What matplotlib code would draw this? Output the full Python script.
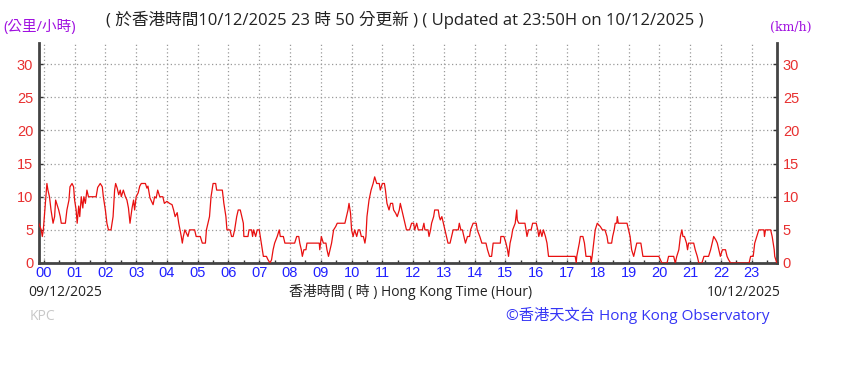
import numpy as np
import matplotlib
matplotlib.use('Agg')
import matplotlib.pyplot as plt
from matplotlib.ticker import MultipleLocator

# minutes after 00:00 of 10/12/2025 (negative = previous day) and wind speed (km/h)
minutes = [-10, -5, -3, -1, 6, 8, 11, 14, 18, 21, 23, 25, 29, 32, 34, 42, 45, 49, 51, 55,
           58, 60, 63, 65, 68, 70, 73, 76, 78, 81, 84, 87, 102, 105, 110, 114, 116, 120, 123, 126,
           131, 135, 138, 140, 143, 146, 149, 151, 155, 159, 162, 165, 168, 172, 175, 177, 180, 184, 187, 190,
           198, 201, 203, 207, 213, 216, 219, 222, 226, 232, 235, 240, 245, 250, 253, 256, 260, 263, 268, 270,
           272, 275, 281, 284, 294, 297, 305, 309, 315, 317, 320, 323, 326, 330, 335, 337, 348, 351, 355, 357,
           363, 366, 369, 372, 376, 379, 383, 386, 389, 390, 398, 400, 405, 407, 409, 413, 416, 420, 422, 426,
           428, 434, 437, 441, 444, 447, 450, 455, 459, 461, 467, 470, 489, 493, 497, 499, 502, 504, 507, 511,
           513, 537, 538, 541, 545, 550, 552, 555, 558, 561, 563, 565, 569, 572, 587, 590, 593, 595, 598, 600,
           603, 606, 610, 613, 616, 619, 623, 626, 628, 630, 634, 638, 642, 645, 649, 654, 656, 660, 664, 666,
           669, 673, 676, 680, 682, 686, 689, 693, 695, 698, 701, 704, 707, 713, 717, 721, 723, 727, 730, 738,
           741, 743, 749, 751, 754, 756, 760, 762, 769, 771, 773, 776, 779, 782, 785, 788, 792, 795, 798, 808,
           810, 813, 816, 819, 822, 826, 830, 832, 837, 843, 845, 850, 854, 862, 865, 869, 873, 876, 890, 891,
           897, 901, 904, 906, 909, 912, 914, 919, 922, 923, 926, 938, 942, 945, 950, 953, 960, 963, 965, 968,
           971, 974, 978, 981, 984, 1036, 1038, 1039, 1044, 1046, 1051, 1054, 1057, 1066, 1067, 1069, 1072, 1075, 1079, 1085,
           1089, 1094, 1098, 1100, 1107, 1109, 1112, 1114, 1117, 1118, 1120, 1137, 1140, 1143, 1146, 1150, 1153, 1156, 1164, 1166,
           1168, 1199, 1202, 1205, 1215, 1218, 1228, 1231, 1234, 1238, 1241, 1244, 1246, 1249, 1253, 1255, 1257, 1267, 1270, 1274,
           1277, 1283, 1287, 1296, 1300, 1303, 1306, 1310, 1313, 1316, 1319, 1323, 1329, 1332, 1335, 1339, 1375, 1378, 1383, 1386,
           1390, 1394, 1404, 1405, 1407, 1417, 1420, 1424, 1425, 1429]
speed = [6, 5, 4, 5, 12, 11, 10, 8, 6, 7, 9.5, 9, 8, 7, 6, 6, 8, 9.5, 11.5, 12,
         11.5, 9.5, 8, 6, 8.6, 7, 10, 8.3, 10, 9, 11, 10, 10, 11.4, 12, 11.5, 10, 8, 6, 5,
         5, 7, 11, 12, 11.3, 10.3, 11, 10, 11, 10, 9.5, 8.3, 6, 8.3, 9.5, 8, 10, 10.6, 11.6, 12,
         12, 11.3, 11.6, 9.8, 8.8, 10, 9.8, 11, 10, 10, 9, 9.3, 9, 8.8, 8, 7, 7.6, 6, 4, 3,
         4, 5, 4, 5, 5, 4, 4, 3, 3, 5, 6, 7, 10, 12, 12, 11, 11, 9, 7, 5,
         5, 4, 4, 5, 7, 8, 8, 7, 6, 4, 4, 5, 5, 4, 5, 4, 5, 5, 4, 2,
         1, 1, 0.5, 0, 0.5, 2, 3, 4, 5, 4, 4, 3, 3, 4, 4, 3, 2, 1, 2, 2,
         3, 3, 2, 4, 3, 3, 2, 1, 2, 3, 4, 5, 5.5, 6, 6, 7, 8, 9, 7.5, 5,
         4, 5, 4, 5, 5, 4, 4, 3, 4, 7, 9.5, 11, 12, 13, 12, 12, 11, 12, 12, 11,
         9, 8, 9, 9, 8, 7.5, 7, 8, 9, 8, 7, 6, 5, 5, 6, 6, 5, 6, 5, 5,
         6, 5, 5, 4, 5, 6, 7, 8, 8, 7, 6.5, 7, 6, 5, 4, 3, 3, 4, 5, 5,
         6, 5, 5, 4, 3, 4, 4, 5, 6, 6, 5, 4, 3, 3, 2, 1, 1, 3, 3, 4,
         4, 3, 2, 1, 3, 4, 5, 6, 8, 6.5, 6, 6, 4, 5, 5, 6, 6, 5, 4, 5,
         4, 5, 4, 3, 1, 1, 0, 1, 3, 4, 4, 3, 1, 1, 0, 1, 3, 5, 6, 5.5,
         5, 5, 4, 3, 3, 4, 5, 6, 6, 7, 6, 6, 5, 4, 2, 1, 2, 3, 3, 2,
         1, 1, 0.5, 0, 0, 1, 1, 0, 1, 2, 4, 5, 4, 4, 3, 2, 3, 3, 2, 1,
         0, 0, 1, 1, 2, 3, 4, 3.5, 3, 2, 1, 2, 2, 1, 0.5, 0, 0, 1, 1, 3,
         4, 5, 5, 4, 5, 5, 4, 2, 1, 0]

hour_labels = ['%02d' % h for h in range(24)]
y_ticks = [0, 5, 10, 15, 20, 25, 30]

W, H = 846, 382
fig = plt.figure(figsize=(W / 100, H / 100), dpi=100)
ax = fig.add_axes([38.7 / W, 1 - 263 / H, (777.3 - 38.7) / W, 220 / H])

t = np.array(minutes) / 60.0
ax.plot(t, speed, color='#e81010', lw=0.9, zorder=3)

ax.set_xlim(-10 / 60, 23 + 50 / 60)
ax.set_ylim(0, 33.2)

ax.set_xticks(range(24))
ax.set_xticklabels(hour_labels, color='#2020ff', fontsize=10.5, family='Liberation Sans')
ax.xaxis.set_minor_locator(MultipleLocator(0.5))
ax.tick_params(axis='x', which='both', direction='in', length=2, width=1, color='#333', pad=2)

ax.set_yticks(y_ticks)
ax.set_yticklabels([str(v) for v in y_ticks], color='#e83030', fontsize=10.5, family='Liberation Sans')
ax.tick_params(axis='y', direction='in', length=3, width=1, color='#333', pad=4)
ax.tick_params(axis='y', right=True, labelright=True)

ax.grid(True, color='#999999', linestyle=(0, (1, 2)), linewidth=0.9)
ax.spines['top'].set_visible(False)
for s in ['left', 'right', 'bottom']:
    ax.spines[s].set_color('#444444')
    ax.spines[s].set_linewidth(2)

cjk = ['Open Sans', 'Noto Sans CJK TC', 'DejaVu Sans']

def put(x, y, s, **kw):
    fig.text(x / W, 1 - y / H, s, **kw)

put(3, 27, '(公里/小時)', color='#a010e0', fontsize=10.5, family=cjk, va='center', ha='left')
put(405, 20, '( 於香港時間10/12/2025 23 時 50 分更新 ) ( Updated at 23:50H on 10/12/2025 )',
    color='#222222', fontsize=12, family=cjk, va='center', ha='center')
put(791, 27, '(km/h)', color='#a010e0', fontsize=9, family='DejaVu Serif', va='center', ha='center')
put(28, 292, '09/12/2025', color='#222222', fontsize=10, family=cjk, va='center', ha='left')
put(411, 292, '香港時間 ( 時 ) Hong Kong Time (Hour)', color='#222222', fontsize=10,
    family=cjk, va='center', ha='center')
put(781, 292, '10/12/2025', color='#222222', fontsize=10, family=cjk, va='center', ha='right')
put(30, 317, 'KPC', color='#c8c8c8', fontsize=10, family=cjk, va='center', ha='left')
put(638, 315, '©香港天文台 Hong Kong Observatory', color='#3535f5', fontsize=11,
    family=cjk, va='center', ha='center')

fig.savefig('out.png', dpi=100)
